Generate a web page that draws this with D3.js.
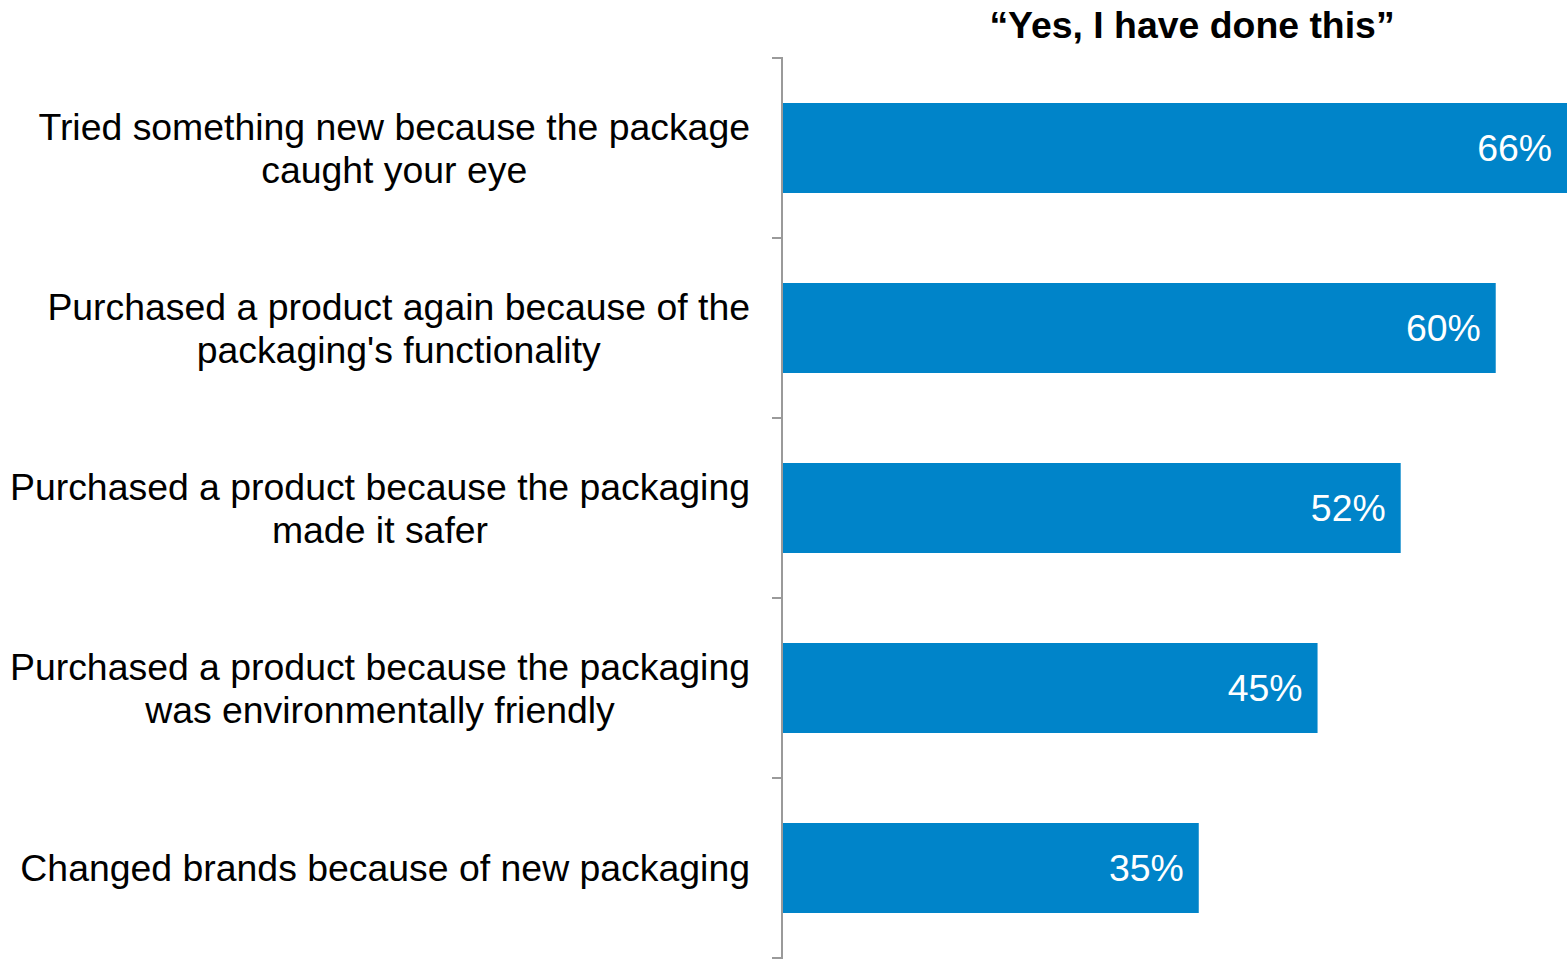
<!DOCTYPE html>
<html>
<head>
<meta charset="utf-8">
<script src="https://cdn.jsdelivr.net/npm/d3@7"></script>
<style>
  html, body { margin: 0; padding: 0; background: #fff; }
  svg { display: block; font-family: "Liberation Sans", Arial, sans-serif; }
</style>
</head>
<body>
<svg id="chart" width="1567" height="959"></svg>
<script>
// Survey answers: share of respondents who said "Yes, I have done this"
const categories = [
  ["Tried something new because the package", "caught your eye"],
  ["Purchased a product again because of the", "packaging's functionality"],
  ["Purchased a product because the packaging", "made it safer"],
  ["Purchased a product because the packaging", "was environmentally friendly"],
  ["Changed brands because of new packaging"]
];
const values = [66, 60, 52, 45, 35];
const valueLabels = ["66%", "60%", "52%", "45%", "35%"];
const title = "\u201CYes, I have done this\u201D";

const svg = d3.select("#chart");
const W = 1567, H = 959;
const margin = { top: 58, right: 0, bottom: 1, left: 783 };
const fontSize = 37.4;

const ids = categories.map((_, i) => i);
const y = d3.scaleBand()
  .domain(ids)
  .range([margin.top, H - margin.bottom])
  .paddingInner(0.5)
  .paddingOuter(0.25);

const x = d3.scaleLinear()
  .domain([0, 66])
  .range([margin.left, W - margin.right]);

// Bars
svg.append("g")
  .selectAll("rect")
  .data(values)
  .join("rect")
  .attr("x", x(0))
  .attr("y", (d, i) => y(i))
  .attr("width", d => x(d) - x(0))
  .attr("height", y.bandwidth())
  .attr("fill", "#0084C9");

// Value labels inside the bar ends
svg.append("g")
  .selectAll("text")
  .data(values)
  .join("text")
  .attr("x", d => x(d) - 15)
  .attr("y", (d, i) => y(i) + y.bandwidth() / 2)
  .attr("dy", "0.35em")
  .attr("text-anchor", "end")
  .attr("fill", "#fff")
  .attr("font-size", fontSize)
  .text((d, i) => valueLabels[i]);

// Category axis: line with ticks on band boundaries
const step = y.step();
const tickYs = d3.range(categories.length + 1).map(i => margin.top + i * step);
const axisG = svg.append("g").attr("stroke", "#9a9a9a").attr("stroke-width", 2);
axisG.append("line")
  .attr("x1", 782).attr("x2", 782)
  .attr("y1", margin.top - 1).attr("y2", H);
axisG.selectAll("line.tick")
  .data(tickYs)
  .join("line")
  .attr("class", "tick")
  .attr("x1", 772).attr("x2", 782)
  .attr("y1", d => d).attr("y2", d => d);

// Category labels: each block right-aligned at 750, lines centred within the block
const lineH = 43;
const labelG = svg.append("g").attr("font-size", fontSize).attr("fill", "#000");
categories.forEach((lines, i) => {
  const g = labelG.append("g");
  const texts = lines.map((ln, j) =>
    g.append("text")
      .attr("text-anchor", "middle")
      .attr("dy", "0.35em")
      .attr("y", y(i) + y.bandwidth() / 2 + (j - (lines.length - 1) / 2) * lineH)
      .text(ln)
  );
  const maxW = d3.max(texts, t => t.node().getComputedTextLength());
  texts.forEach(t => t.attr("x", 750 - maxW / 2));
});

// Title
svg.append("text")
  .attr("x", 1192)
  .attr("y", 38)
  .attr("text-anchor", "middle")
  .attr("font-size", fontSize)
  .attr("font-weight", "bold")
  .attr("fill", "#000")
  .text(title);
</script>
</body>
</html>
